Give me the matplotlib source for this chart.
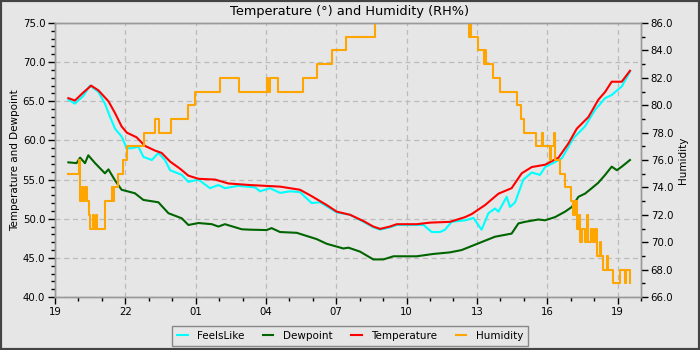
import matplotlib
matplotlib.use("Agg")
import matplotlib.pyplot as plt
from matplotlib.ticker import MultipleLocator, FormatStrFormatter, FixedLocator
from matplotlib.patches import Rectangle

# hours since 19:00
temp_t = [0.57, 0.85, 1.2, 1.54, 1.85, 2.28, 2.56, 2.84, 3.06, 3.48, 3.84, 4.27, 4.55, 4.91,
          5.33, 5.69, 6.12, 6.83, 7.4, 8.32, 9.6, 10.45, 10.88, 11.59, 12.02, 12.59, 13.16,
          13.58, 13.87, 14.29, 14.58, 15.43, 16.0, 16.85, 17.49, 17.78, 18.35, 18.92, 19.48,
          19.91, 20.34, 20.91, 21.48, 21.9, 22.26, 22.76, 23.18, 23.47, 23.75, 24.18, 24.53]
temp_v = [65.4, 65.1, 66.1, 67.0, 66.4, 65.0, 63.5, 61.8, 61.0, 60.4, 59.3, 58.7, 58.4, 57.3,
          56.4, 55.5, 55.1, 55.0, 54.5, 54.3, 54.1, 53.7, 53.0, 51.75, 50.9, 50.5, 49.7,
          49.0, 48.7, 49.0, 49.3, 49.3, 49.5, 49.6, 50.2, 50.6, 51.75, 53.2, 53.9,
          55.8, 56.6, 56.9, 57.8, 59.6, 61.5, 63.0, 65.2, 66.2, 67.5, 67.5, 68.9]

feels_t = [0.57, 0.85, 1.21, 1.49, 1.85, 2.13, 2.35, 2.56, 2.84, 3.06, 3.27, 3.56, 3.77, 4.13,
           4.41, 4.69, 4.91, 5.41, 5.69, 6.12, 6.61, 6.97, 7.25, 7.82, 8.53, 8.75, 9.17, 9.6,
           10.03, 10.45, 10.95, 11.31, 12.02, 12.59, 13.16, 13.58, 13.87, 14.29, 14.58, 15.43,
           15.72, 16.07, 16.43, 16.64, 16.92, 17.5, 17.85, 18.2, 18.49, 18.77, 18.92, 19.27,
           19.41, 19.63, 19.98, 20.34, 20.69, 20.91, 21.62, 22.12, 22.61, 23.04, 23.47, 23.75,
           24.18, 24.53]
feels_v = [65.2, 64.7, 65.7, 67.0, 66.2, 64.7, 63.0, 61.5, 60.5, 59.0, 59.0, 59.2, 57.9, 57.5,
           58.4, 57.5, 56.2, 55.6, 54.7, 55.0, 53.9, 54.3, 53.9, 54.2, 54.0, 53.5, 53.9, 53.3,
           53.5, 53.4, 52.0, 52.1, 50.8, 50.5, 49.6, 48.9, 48.6, 48.9, 49.2, 49.2,
           49.2, 48.3, 48.3, 48.6, 49.6, 49.8, 50.1, 48.6, 50.7, 51.3, 50.9, 52.8,
           51.5, 52.1, 55.0, 55.9, 55.6, 56.6, 57.7, 60.3, 61.8, 63.9, 65.4, 65.8,
           66.9, 68.8]

dew_t = [0.57, 0.92, 1.07, 1.28, 1.42, 1.71, 2.13, 2.28, 2.56, 2.84, 3.41, 3.77, 4.41, 4.84,
         5.41, 5.69, 6.12, 6.69, 6.97, 7.25, 7.97, 8.32, 9.03, 9.24, 9.6, 10.31, 11.16, 11.59,
         12.3, 12.52, 13.01, 13.58, 14.01, 14.44, 15.43, 16.14, 16.85, 17.35, 18.06, 18.77,
         19.48, 19.77, 20.05, 20.62, 20.91, 21.33, 21.76, 22.05, 22.33, 22.61, 22.9, 23.18,
         23.47, 23.75, 23.97, 24.18, 24.53]
dew_v = [57.2, 57.1, 57.8, 57.1, 58.1, 57.1, 55.8, 56.3, 54.9, 53.7, 53.25, 52.4, 52.1, 50.7,
         50.05, 49.2, 49.45, 49.3, 49.0, 49.3, 48.65, 48.6, 48.55, 48.8, 48.3, 48.2, 47.4, 46.8,
         46.2, 46.3, 45.8, 44.8, 44.8, 45.2, 45.2, 45.5, 45.7, 46.0, 46.85, 47.7,
         48.1, 49.4, 49.6, 49.9, 49.8, 50.2, 50.9, 51.5, 52.8, 53.2, 53.9, 54.6,
         55.6, 56.65, 56.2, 56.65, 57.5]

hum_t = [0.57, 1.02, 1.07, 1.14, 1.20, 1.30, 1.36, 1.44, 1.49, 1.62, 1.68, 1.75, 1.79, 2.13,
         2.42, 2.48, 2.53, 2.69, 2.92, 3.06, 3.81, 4.27, 4.44, 4.95, 5.66, 5.97, 7.04, 7.87,
         9.03, 9.10, 9.16, 9.50, 10.60, 11.17, 11.80, 12.42, 13.65, 17.66, 17.70, 17.74,
         18.06, 18.30, 18.34, 18.40, 18.70, 18.99, 19.70, 19.90, 20.00, 20.50, 20.78, 20.82,
         21.10, 21.18, 21.28, 21.32, 21.55, 21.76, 22.00, 22.10, 22.20, 22.25, 22.35, 22.40,
         22.50, 22.60, 22.70, 22.75, 22.85, 22.95, 23.05, 23.11, 23.25, 23.30, 23.40, 23.55,
         23.60, 23.82, 24.11, 24.33, 24.38, 24.53]
hum_v = [75, 76, 73, 74, 73, 74, 73, 72, 71, 72, 71, 72, 71, 73,
         74, 73, 74, 75, 76, 77, 78, 79, 78, 79, 80, 81, 82, 81,
         82, 81, 82, 81, 82, 83, 84, 85, 88, 85, 86, 85,
         84, 83, 84, 83, 82, 81, 80, 79, 78, 77, 78, 77,
         76, 77, 78, 76, 75, 74, 73, 72, 73, 71, 72, 70,
         71, 70, 72, 70, 71, 70, 71, 69, 70, 69, 68, 69,
         68, 67, 68, 67, 68, 67]

x_tick_pos = [0, 3, 6, 9, 12, 15, 18, 21, 24]
x_tick_labels = ["19", "22", "01", "04", "07", "10", "13", "16", "19"]

title = "Temperature (°) and Humidity (RH%)"
BG = "#e6e6e6"

fig = plt.figure(figsize=(7, 3.5), dpi=100, facecolor=BG)
ax = fig.add_axes([55/700, 1-297/350, (641-55)/700, (297-23)/350])
ax.set_facecolor(BG)
ax2 = ax.twinx()

LW = 1.5
l1, = ax.plot(feels_t, feels_v, color="#00ffff", lw=LW, label="FeelsLike", zorder=3)
l2, = ax.plot(dew_t, dew_v, color="#006400", lw=LW, label="Dewpoint", zorder=3)
l3, = ax.plot(temp_t, temp_v, color="#ff0000", lw=LW, label="Temperature", zorder=4)
l4, = ax2.plot(hum_t, hum_v, color="#ffa500", lw=LW, drawstyle="steps-post", label="Humidity")

ax.set_xlim(0, 25)
ax.set_ylim(40, 75)
ax2.set_ylim(66, 86)

ax.xaxis.set_major_locator(FixedLocator(x_tick_pos))
ax.set_xticklabels(x_tick_labels)
ax.xaxis.set_minor_locator(MultipleLocator(1))
ax.yaxis.set_major_locator(MultipleLocator(5))
ax.yaxis.set_minor_locator(MultipleLocator(1))
ax.yaxis.set_major_formatter(FormatStrFormatter("%.1f"))
ax2.yaxis.set_major_locator(MultipleLocator(2))
ax2.yaxis.set_minor_locator(MultipleLocator(1))
ax2.yaxis.set_major_formatter(FormatStrFormatter("%.1f"))

for a in (ax, ax2):
    a.tick_params(which="major", direction="out", length=5, width=1, colors="black",
                  labelsize=7.3, pad=2)
    a.tick_params(which="minor", direction="out", length=3, width=1, colors="black")
    for s in a.spines.values():
        s.set_color("#999999")
        s.set_linewidth(1)

ax.grid(True, which="major", color="#bbbbbb", linestyle=(0, (4, 3)), linewidth=0.9)
ax.set_axisbelow(True)

ax.set_ylabel("Temperature and Dewpoint", fontsize=7.5, labelpad=2)
ax2.set_ylabel("Humidity", fontsize=7.5, labelpad=3)

fig.text(0.5, 1 - 11/350, title, ha="center", va="center", fontsize=9.3)

leg = fig.legend([l1, l2, l3, l4], ["FeelsLike", "Dewpoint", "Temperature", "Humidity"],
                 loc="center", bbox_to_anchor=(0.5, 1 - 336/350), ncol=4, fontsize=7.5,
                 frameon=True, fancybox=False, framealpha=1, facecolor=BG,
                 edgecolor="#888888", handlelength=1.0, columnspacing=1.8,
                 borderpad=0.45, handletextpad=0.9)
leg.get_frame().set_linewidth(1)

fig.patches.append(Rectangle((0, 0), 1, 1, transform=fig.transFigure, fill=False,
                             edgecolor="#444444", linewidth=3, zorder=10))

fig.savefig("out.png", dpi=100, facecolor=BG)
